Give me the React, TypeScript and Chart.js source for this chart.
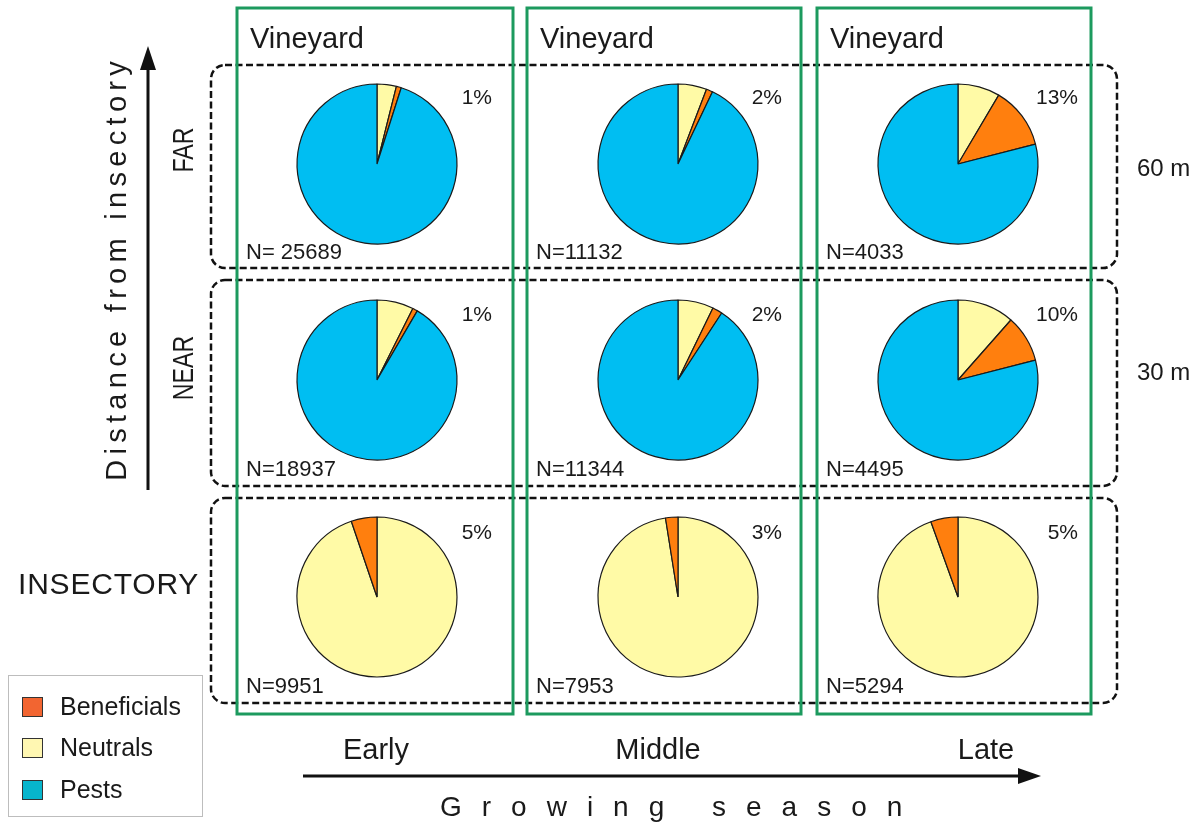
import React, { useEffect, useRef } from "react";
import { Chart, registerables } from "chart.js";
Chart.register(...registerables);

// ---------- data ----------
const seasons = ["Early", "Middle", "Late"];
const rowNames = ["FAR", "NEAR", "INSECTORY"];
const distances = ["60 m", "30 m"];
const seriesNames = ["Beneficials", "Neutrals", "Pests"];
// row-major: FAR (early, middle, late), NEAR (...), INSECTORY (...)
const beneficials = [1, 1.3, 12.5, 1, 2, 9.5, 5.2, 2.5, 5.5];
const neutrals = [3.9, 5.8, 8.5, 7.4, 7.2, 11.5, 94.8, 97.5, 94.5];
const pests = [95.1, 92.9, 79, 91.6, 90.8, 79, 0, 0, 0];
const percentLabels = ["1%", "2%", "13%", "1%", "2%", "10%", "5%", "3%", "5%"];
const sampleSizes = ["N= 25689", "N=11132", "N=4033", "N=18937", "N=11344", "N=4495", "N=9951", "N=7953", "N=5294"];

const pieColors = ["#FF7F0E", "#FFFAA6", "#00BEF2"];
const legendColors = ["#F26531", "#FFF7B2", "#07B5CC"];

// ---------- layout ----------
const W = 1204;
const H = 828;
const pieCX = [377, 678, 958];
const pieCY = [164, 380, 597];
const PIE_R = 80;
const PIE_BOX = 172;
const FONT = '"Liberation Sans", Arial, Helvetica, sans-serif';

function roundRect(ctx: CanvasRenderingContext2D, x: number, y: number, w: number, h: number, r: number) {
  ctx.beginPath();
  ctx.moveTo(x + r, y);
  ctx.lineTo(x + w - r, y);
  ctx.arcTo(x + w, y, x + w, y + r, r);
  ctx.lineTo(x + w, y + h - r);
  ctx.arcTo(x + w, y + h, x + w - r, y + h, r);
  ctx.lineTo(x + r, y + h);
  ctx.arcTo(x, y + h, x, y + h - r, r);
  ctx.lineTo(x, y + r);
  ctx.arcTo(x, y, x + r, y, r);
  ctx.closePath();
}

const decorPlugin = {
  id: "decor",
  beforeDraw(chart: any) {
    const ctx: CanvasRenderingContext2D = chart.ctx;
    ctx.save();
    ctx.fillStyle = "#ffffff";
    ctx.fillRect(0, 0, W, H);

    // dashed row boxes
    const rowsY = [
      [65, 268],
      [280, 486],
      [498, 703],
    ];
    ctx.strokeStyle = "#111";
    ctx.lineWidth = 2.5;
    ctx.setLineDash([7, 3.5]);
    rowsY.forEach(([t, b]) => {
      roundRect(ctx, 211, t, 1117 - 211, b - t, 14);
      ctx.stroke();
    });
    ctx.setLineDash([]);

    // green column boxes
    ctx.strokeStyle = "#1C9A5E";
    ctx.lineWidth = 3;
    const colsX = [
      [237, 513],
      [527, 801],
      [817, 1091],
    ];
    colsX.forEach(([l, r]) => {
      ctx.strokeRect(l, 8, r - l, 706);
    });

    // vertical arrow
    ctx.strokeStyle = "#111";
    ctx.fillStyle = "#111";
    ctx.lineWidth = 3;
    ctx.beginPath();
    ctx.moveTo(148, 490);
    ctx.lineTo(148, 62);
    ctx.stroke();
    ctx.beginPath();
    ctx.moveTo(148, 46);
    ctx.lineTo(156, 70);
    ctx.lineTo(140, 70);
    ctx.closePath();
    ctx.fill();

    // horizontal arrow
    ctx.beginPath();
    ctx.moveTo(303, 776);
    ctx.lineTo(1024, 776);
    ctx.stroke();
    ctx.beginPath();
    ctx.moveTo(1041, 776);
    ctx.lineTo(1018, 768);
    ctx.lineTo(1018, 784);
    ctx.closePath();
    ctx.fill();

    // texts
    ctx.fillStyle = "#1a1a1a";
    ctx.textBaseline = "alphabetic";
    ctx.font = `29px ${FONT}`;
    ctx.textAlign = "left";
    [250, 540, 830].forEach((x) => ctx.fillText("Vineyard", x, 48));

    // percent labels
    ctx.font = `21px ${FONT}`;
    ctx.textAlign = "right";
    const pctX = [492, 782, 1078];
    const pctY = [104, 321, 539];
    for (let r = 0; r < 3; r++)
      for (let c = 0; c < 3; c++) ctx.fillText(percentLabels[r * 3 + c], pctX[c], pctY[r]);

    // N labels
    ctx.textAlign = "left";
    ctx.font = `22px ${FONT}`;
    const nX = [246, 536, 826];
    const nY = [259, 476, 693];
    for (let r = 0; r < 3; r++)
      for (let c = 0; c < 3; c++) ctx.fillText(sampleSizes[r * 3 + c], nX[c], nY[r]);

    // distances
    ctx.font = `24px ${FONT}`;
    ctx.fillText(distances[0], 1137, 176);
    ctx.fillText(distances[1], 1137, 380);

    // rotated texts
    const rot = (txt: string, x: number, y: number, spacing = 0, sx = 1) => {
      ctx.save();
      ctx.translate(x, y);
      ctx.rotate(-Math.PI / 2);
      ctx.scale(sx, 1);
      (ctx as any).letterSpacing = `${spacing}px`;
      const w = ctx.measureText(txt).width;
      ctx.textAlign = "left";
      ctx.fillText(txt, -(w - spacing) / 2, 0);
      ctx.restore();
    };
    ctx.font = `29px ${FONT}`;
    rot(rowNames[0], 193, 150, 0, 0.8);
    rot(rowNames[1], 193, 368, 0, 0.8);
    rot("Distance from insectory", 126, 271, 5.3);

    ctx.textAlign = "left";
    ctx.save();
    ctx.font = `30px ${FONT}`;
    (ctx as any).letterSpacing = "0.8px";
    ctx.fillText(rowNames[2], 18, 594);
    ctx.restore();

    // season labels
    ctx.font = `29px ${FONT}`;
    ctx.textAlign = "center";
    const seasonX = [376, 658, 986];
    seasons.forEach((s, i) => ctx.fillText(s, seasonX[i], 759));

    // growing season
    ctx.save();
    ctx.font = `28px ${FONT}`;
    (ctx as any).letterSpacing = "20px";
    ctx.textAlign = "left";
    ctx.fillText("Growing season", 440, 816);
    ctx.restore();

    // legend
    ctx.strokeStyle = "#bdbdbd";
    ctx.lineWidth = 1;
    ctx.strokeRect(8.5, 675.5, 194, 141);
    const legY = [697, 738, 780];
    ctx.font = `25px ${FONT}`;
    ctx.textAlign = "left";
    seriesNames.forEach((name, i) => {
      ctx.fillStyle = legendColors[i];
      ctx.fillRect(22, legY[i], 21, 20);
      ctx.strokeStyle = "#333";
      ctx.strokeRect(22.5, legY[i] + 0.5, 20, 19);
      ctx.fillStyle = "#1a1a1a";
      ctx.fillText(name, 60, legY[i] + 18);
    });

    ctx.restore();
  },
};

function Background() {
  const ref = useRef<HTMLCanvasElement>(null);
  useEffect(() => {
    const chart = new Chart(ref.current!, {
      type: "scatter",
      data: { datasets: [] },
      options: {
        responsive: false,
        animation: false,
        devicePixelRatio: 1,
        layout: { padding: 0 },
        scales: { x: { display: false }, y: { display: false } },
        plugins: { legend: { display: false }, tooltip: { enabled: false } },
      },
      plugins: [decorPlugin],
    });
    return () => chart.destroy();
  }, []);
  return <canvas ref={ref} width={W} height={H} style={{ position: "absolute", left: 0, top: 0 }} />;
}

function Pie({ idx }: { idx: number }) {
  const ref = useRef<HTMLCanvasElement>(null);
  const row = Math.floor(idx / 3);
  const col = idx % 3;
  useEffect(() => {
    const vals = [beneficials[idx], neutrals[idx], pests[idx]];
    const order = row < 2 ? [1, 0, 2] : [1, 2, 0];
    const chart = new Chart(ref.current!, {
      type: "pie",
      data: {
        labels: order.map((k) => seriesNames[k]),
        datasets: [
          {
            data: order.map((k) => vals[k]),
            backgroundColor: order.map((k) => pieColors[k]),
            borderColor: "#1a1a1a",
            borderWidth: 1.2,
          },
        ],
      },
      options: {
        responsive: false,
        animation: false,
        devicePixelRatio: 1,
        radius: PIE_R,
        layout: { padding: 0 },
        plugins: { legend: { display: false }, tooltip: { enabled: false } },
      },
    });
    return () => chart.destroy();
  }, [idx]);
  return (
    <canvas
      ref={ref}
      width={PIE_BOX}
      height={PIE_BOX}
      style={{
        position: "absolute",
        left: pieCX[col] - PIE_BOX / 2,
        top: pieCY[row] - PIE_BOX / 2,
        width: PIE_BOX,
        height: PIE_BOX,
      }}
    />
  );
}

export default function App() {
  return (
    <div style={{ position: "absolute", left: 0, top: 0, width: W, height: H, background: "#fff" }}>
      <Background />
      {Array.from({ length: 9 }, (_, i) => (
        <Pie key={i} idx={i} />
      ))}
    </div>
  );
}
